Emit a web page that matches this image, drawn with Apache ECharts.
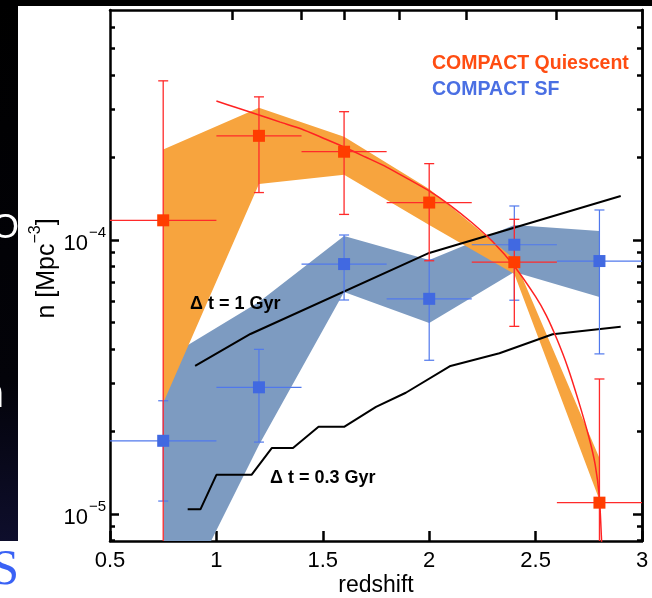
<!DOCTYPE html>
<html>
<head>
<meta charset="utf-8">
<script src="https://cdn.jsdelivr.net/npm/echarts@6/dist/echarts.min.js"></script>
<style>
  html, body { margin: 0; padding: 0; background: #fff; }
  #chart { width: 652px; height: 598px; }
</style>
</head>
<body>
<div id="chart"></div>
<script>
// ---- data -------------------------------------------------------------
// redshift bins (centre, low edge, high edge)
const binZ   = [0.75, 1.2, 1.6, 2.0, 2.4, 2.8];
const binZLo = [0.5, 1.0, 1.4, 1.8, 2.2, 2.6];
const binZHi = [1.0, 1.4, 1.8, 2.2, 2.6, 3.0];

// compact quiescent number densities [Mpc^-3]
const quiN   = [1.18e-4, 2.40e-4, 2.10e-4, 1.37e-4, 0.83e-4, 1.10e-5];
const quiNLo = [1e-6,    1.49e-4, 1.24e-4, 0.84e-4, 0.484e-4, 1e-6];
const quiNHi = [3.81e-4, 3.33e-4, 2.94e-4, 1.90e-4, 1.19e-4, 3.11e-5];

// compact star-forming number densities [Mpc^-3]
const sfN   = [1.85e-5, 2.90e-5, 0.817e-4, 0.61e-4, 0.961e-4, 0.838e-4];
const sfNLo = [1.115e-5, 1.83e-5, 0.604e-4, 0.364e-4, 0.603e-4, 0.384e-4];
const sfNHi = [2.59e-5, 3.99e-5, 1.043e-4, 0.845e-4, 1.331e-4, 1.287e-4];

// shaded ranges
const quiBandLo = [2.54e-5, 1.60e-4, 1.73e-4, 1.134e-4, 0.751e-4, 1.125e-5];
const quiBandHi = [2.14e-4, 3.04e-4, 2.38e-4, 1.535e-4, 0.852e-4, 1.60e-5];
const sfBandLo  = [3.56e-6, 1.786e-5, 0.646e-4, 0.498e-4, 0.764e-4, 0.619e-4];
const sfBandHi  = [3.65e-5, 0.594e-4, 1.034e-4, 0.845e-4, 1.134e-4, 1.079e-4];

// quiescent model curve
const curveZ = [1.0, 1.1, 1.2, 1.3, 1.4, 1.5, 1.6, 1.7, 1.8, 1.9, 2.0, 2.1, 2.2, 2.3, 2.4,
                2.5, 2.55, 2.6, 2.65, 2.7, 2.75, 2.78, 2.8, 2.81, 2.817];
const curveN = [3.216e-4, 3.032e-4, 2.859e-4, 2.693e-4, 2.542e-4, 2.358e-4, 2.185e-4, 2.009e-4,
                1.846e-4, 1.671e-4, 1.510e-4, 1.336e-4, 1.158e-4, 0.983e-4, 0.802e-4,
                0.621e-4, 0.531e-4, 0.435e-4, 3.45e-5, 2.61e-5, 1.915e-5, 1.515e-5, 1.144e-5,
                7.97e-6, 5.74e-6];

// Δt = 1 Gyr track
const gyr1Z = [0.9, 1.16, 2.0, 2.9];
const gyr1N = [3.47e-5, 4.54e-5, 0.897e-4, 1.447e-4];

// Δt = 0.3 Gyr track
const gyr03Z = [0.865, 0.925, 1.0, 1.165, 1.26, 1.36, 1.48, 1.6, 1.75, 1.89, 2.1, 2.33, 2.58, 2.9];
const gyr03N = [1.04e-5, 1.04e-5, 1.39e-5, 1.39e-5, 1.74e-5, 1.74e-5, 2.08e-5, 2.08e-5,
                2.46e-5, 2.77e-5, 3.47e-5, 3.86e-5, 4.53e-5, 4.82e-5];

// axis ticks
const yMajorTicks = [1e-5, 1e-4];
const yMinorTicks = [8e-6, 9e-6, 2e-5, 3e-5, 4e-5, 5e-5, 6e-5, 7e-5, 8e-5, 9e-5,
                     2e-4, 3e-4, 4e-4, 5e-4, 6e-4];
const topTicks = [1.075, 1.398, 1.6, 1.86, 2.176, 2.599];
const yMin = 7.97e-6, yMax = 6.91e-4;

// ---- chart ------------------------------------------------------------
const FONT = "'Liberation Sans', Arial, Helvetica, sans-serif";
const chart = echarts.init(document.getElementById('chart'), null, { renderer: 'canvas' });

function bandItem(zs, lo, hi, color) {
  return function (params, api) {
    if (params.dataIndex !== 0) return null;
    const pts = [];
    for (let i = 0; i < zs.length; i++) pts.push(api.coord([zs[i], hi[i]]));
    for (let i = zs.length - 1; i >= 0; i--) pts.push(api.coord([zs[i], lo[i]]));
    return { type: 'polygon', shape: { points: pts }, style: { fill: color }, silent: true };
  };
}

function errItem(color, width) {
  return function (params, api) {
    const z = api.value(0), n = api.value(1);
    const lo = api.value(2), hi = api.value(3);
    const zl = api.value(4), zh = api.value(5);
    const pTop = api.coord([z, hi]);
    const pBot = api.coord([z, lo]);
    const pL = api.coord([zl, n]);
    const pR = api.coord([zh, n]);
    const cap = 5;
    const st = { stroke: color, lineWidth: width };
    return {
      type: 'group',
      children: [
        { type: 'line', shape: { x1: pTop[0], y1: pTop[1], x2: pBot[0], y2: pBot[1] }, style: st },
        { type: 'line', shape: { x1: pTop[0] - cap, y1: pTop[1], x2: pTop[0] + cap, y2: pTop[1] }, style: st },
        { type: 'line', shape: { x1: pBot[0] - cap, y1: pBot[1], x2: pBot[0] + cap, y2: pBot[1] }, style: st },
        { type: 'line', shape: { x1: pL[0], y1: pL[1], x2: pR[0], y2: pR[1] }, style: st }
      ]
    };
  };
}

const frameLine = { show: true, lineStyle: { color: '#000', width: 2.5 } };
const tickStyle = { color: '#000', width: 2.5 };

function yAxisDef(position, ticks, len, withLabels) {
  const ax = {
    type: 'log', logBase: 10, min: yMin, max: yMax, position: position,
    axisLine: withLabels || position === 'right' ? frameLine : { show: false },
    axisTick: { show: true, inside: true, length: len, lineStyle: tickStyle, customValues: ticks },
    axisLabel: { show: false },
    splitLine: { show: false }, minorTick: { show: false }
  };
  if (withLabels) {
    ax.axisLabel = {
      show: true, customValues: ticks, margin: 4,
      formatter: function (v) {
        return '{b|10}{s|\u2212' + (-Math.round(Math.log10(v))) + '}';
      },
      rich: {
        b: { fontSize: 22, fontFamily: FONT, color: '#000', lineHeight: 30, verticalAlign: 'bottom' },
        s: { fontSize: 15, fontFamily: FONT, color: '#000', lineHeight: 30, verticalAlign: 'top', padding: [0, 0, 0, 1] }
      }
    };
    ax.name = '{t|n [Mpc}{s|\u22123}{t|]}';
    ax.nameLocation = 'middle';
    ax.nameMoveOverlap = false;
    ax.nameGap = 50;
    ax.nameTextStyle = {
      padding: [0, 0, 0, 14],
      rich: {
        t: { fontSize: 25, fontFamily: FONT, color: '#000', lineHeight: 32, verticalAlign: 'bottom' },
        s: { fontSize: 16, fontFamily: FONT, color: '#000', lineHeight: 32, verticalAlign: 'top' }
      }
    };
  }
  return ax;
}

const option = {
  animation: false,
  backgroundColor: '#fff',
  grid: { left: 110, right: 10, top: 10, bottom: 57, containLabel: false, outerBoundsMode: 'none' },
  xAxis: [
    {
      type: 'value', min: 0.5, max: 3, interval: 0.5, position: 'bottom',
      axisLine: frameLine,
      axisTick: { show: true, inside: true, length: 10, lineStyle: tickStyle },
      axisLabel: { color: '#000', fontSize: 22, fontFamily: FONT, margin: 9 },
      splitLine: { show: false },
      name: 'redshift', nameLocation: 'middle', nameGap: 33, nameMoveOverlap: false,
      nameTextStyle: { color: '#000', fontSize: 23, fontFamily: FONT }
    },
    {
      type: 'value', min: 0.5, max: 3, position: 'top',
      axisLine: frameLine,
      axisTick: { show: true, inside: true, length: 10, lineStyle: tickStyle, customValues: topTicks },
      axisLabel: { show: false },
      splitLine: { show: false }
    }
  ],
  yAxis: [
    yAxisDef('left', yMajorTicks, 9, true),
    yAxisDef('left', yMinorTicks, 5, false),
    yAxisDef('right', yMajorTicks, 9, false),
    yAxisDef('right', yMinorTicks, 5, false)
  ],
  series: [
    {
      type: 'custom', name: 'SF range', clip: true, z: 1,
      data: binZ.map((z, i) => [z, sfBandLo[i], sfBandHi[i]]),
      encode: { x: 0, y: [1, 2] },
      renderItem: bandItem(binZ, sfBandLo, sfBandHi, '#7D9BC1')
    },
    {
      type: 'custom', name: 'Quiescent range', clip: true, z: 2,
      data: binZ.map((z, i) => [z, quiBandLo[i], quiBandHi[i]]),
      encode: { x: 0, y: [1, 2] },
      renderItem: bandItem(binZ, quiBandLo, quiBandHi, '#F7A43E')
    },
    {
      type: 'line', name: 'dt 1 Gyr', z: 3, showSymbol: false, clip: true,
      data: gyr1Z.map((z, i) => [z, gyr1N[i]]),
      lineStyle: { color: '#000', width: 2 }
    },
    {
      type: 'line', name: 'dt 0.3 Gyr', z: 3, showSymbol: false, clip: true,
      data: gyr03Z.map((z, i) => [z, gyr03N[i]]),
      lineStyle: { color: '#000', width: 2 }
    },
    {
      type: 'line', name: 'Quiescent model', z: 4, showSymbol: false, clip: true,
      smooth: 0.2,
      data: curveZ.map((z, i) => [z, curveN[i]]),
      lineStyle: { color: '#FF2222', width: 1.5 }
    },
    {
      type: 'custom', name: 'SF errors', clip: true, z: 5,
      data: binZ.map((z, i) => [z, sfN[i], sfNLo[i], sfNHi[i], binZLo[i], binZHi[i]]),
      encode: { x: 0, y: 1 },
      renderItem: errItem('#5078EC', 1.2)
    },
    {
      type: 'custom', name: 'Quiescent errors', clip: true, z: 5,
      data: binZ.map((z, i) => [z, quiN[i], quiNLo[i], quiNHi[i], binZLo[i], binZHi[i]]),
      encode: { x: 0, y: 1 },
      renderItem: errItem('#FF2A2A', 1.3)
    },
    {
      type: 'scatter', name: 'COMPACT Quiescent', z: 6, symbol: 'rect', symbolSize: 12,
      data: binZ.map((z, i) => [z, quiN[i]]),
      itemStyle: { color: '#FF3D00', opacity: 1 }
    },
    {
      type: 'scatter', name: 'COMPACT SF', z: 6, symbol: 'rect', symbolSize: 12,
      data: binZ.map((z, i) => [z, sfN[i]]),
      itemStyle: { color: '#4169E1', opacity: 1 }
    }
  ],
  graphic: [
    { type: 'rect', z: 100, silent: true, shape: { x: 0, y: 0, width: 18, height: 541 },
      style: { fill: { type: 'linear', x: 0, y: 0, x2: 0, y2: 1,
        colorStops: [{ offset: 0, color: '#000' }, { offset: 0.7, color: '#030309' }, { offset: 1, color: '#0e0e2c' }] } } },
    { type: 'rect', z: 100, silent: true, shape: { x: 0, y: 0, width: 652, height: 6 }, style: { fill: '#000' } },
    { type: 'text', z: 101, silent: true,
      style: { text: 'O', x: 19, y: 228, align: 'right', verticalAlign: 'middle', fill: '#fff', font: '35px ' + FONT } },
    { type: 'text', z: 101, silent: true,
      style: { text: 'n', x: 4, y: 396, align: 'right', verticalAlign: 'middle', fill: '#fff', font: '40px ' + FONT } },
    { type: 'text', z: 101, silent: true,
      style: { text: 'S', x: 19, y: 571, align: 'right', verticalAlign: 'middle', fill: '#3a62f5',
        font: "50px 'Liberation Serif', 'DejaVu Serif', serif" } },
    { type: 'text', z: 50, silent: true,
      style: { text: 'COMPACT Quiescent', x: 432, y: 64, verticalAlign: 'middle', fill: '#FF4D12',
        font: 'bold 19.5px ' + FONT } },
    { type: 'text', z: 50, silent: true,
      style: { text: 'COMPACT SF', x: 432, y: 90, verticalAlign: 'middle', fill: '#4A6FE3',
        font: 'bold 19.5px ' + FONT } },
    { type: 'text', z: 50, silent: true,
      style: { text: '\u0394 t = 1 Gyr', x: 190, y: 304, verticalAlign: 'middle', fill: '#000',
        font: 'bold 18px ' + FONT } },
    { type: 'text', z: 50, silent: true,
      style: { text: '\u0394 t = 0.3 Gyr', x: 270, y: 478, verticalAlign: 'middle', fill: '#000',
        font: 'bold 18px ' + FONT } }
  ]
};

chart.setOption(option);
</script>
</body>
</html>
